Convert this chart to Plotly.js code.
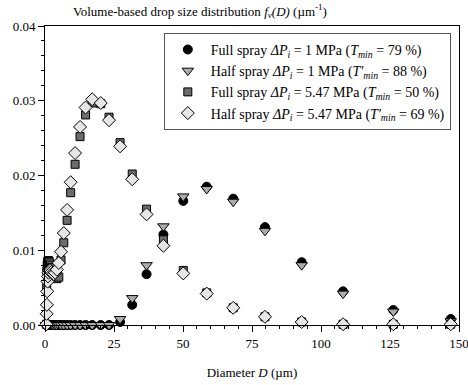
<!DOCTYPE html>
<html>
<head>
<meta charset="utf-8">
<script src="https://cdn.plot.ly/plotly-3.0.1.min.js"></script>
<style>html,body{margin:0;padding:0;background:#fff;}#chart{width:468px;height:385px;}</style>
</head>
<body>
<div id="chart"></div>
<script>
// Drop diameter classes (µm)
const diameter = [0.51, 0.59, 0.69, 0.80, 0.93, 1.08, 1.26, 1.47, 1.7, 2.0, 2.3, 2.7, 3.2, 3.7, 4.3, 5.0, 5.8, 6.8, 8.0, 9.3, 10.9, 12.7, 14.7, 17.1, 20.2, 23.2, 27.2, 31.6, 36.8, 42.9, 50.1, 58.6, 68.2, 79.7, 93, 108, 126.2, 147];

// Full spray ΔPi = 1 MPa
const fullSpray1 = [0, 0, 0, 0, 0, 0, 0, 0, 0, 0, 0, 0, 0, 0, 0, 0, 0, 0, 0, 0, 0, 0, 0, 0, 0, 0, 0.0004, 0.0027, 0.0068, 0.0121, 0.0166, 0.0185, 0.0169, 0.0131, 0.0084, 0.0045, 0.0020, 0.0008];
// Half spray ΔPi = 1 MPa
const halfSpray1 = [0, 0, 0, 0, 0, 0, 0, 0, 0, 0, 0, 0, 0, 0, 0, 0, 0, 0, 0, 0, 0, 0, 0, 0, 0, 0, 0.0008, 0.0036, 0.0080, 0.0132, 0.0172, 0.0182, 0.0165, 0.0126, 0.0080, 0.0042, 0.0018, 0.0005];
// Full spray ΔPi = 5.47 MPa
const fullSpray547 = [0.0001, 0.0050, 0.0072, 0.0080, 0.0084, 0.0086, 0.0086, 0.0085, 0.0083, 0.0080, 0.0077, 0.0073, 0.0069, 0.0065, 0.0062, 0.0064, 0.0087, 0.0110, 0.0140, 0.0177, 0.0215, 0.0252, 0.0281, 0.0297, 0.0296, 0.0278, 0.0244, 0.0202, 0.0155, 0.0114, 0.0073, 0.0043, 0.0023, 0.0011, 0.0004, 0.0001, 0.0001, 0.0001];
// Half spray ΔPi = 5.47 MPa
const halfSpray547 = [0.0001, 0.0015, 0.0027, 0.0045, 0.0058, 0.0065, 0.0070, 0.0073, 0.0074, 0.0073, 0.0071, 0.0069, 0.0068, 0.0070, 0.0074, 0.0083, 0.0098, 0.0123, 0.0154, 0.0191, 0.0230, 0.0265, 0.0291, 0.0302, 0.0297, 0.0274, 0.0239, 0.0195, 0.0148, 0.0106, 0.0069, 0.0042, 0.0023, 0.0011, 0.0004, 0.0001, 0.0001, 0.0001];

const xTickVals = [0, 25, 50, 75, 100, 125, 150];
const yTickVals = [0, 0.01, 0.02, 0.03, 0.04];

const seriesNames = [
  "Full spray <i>ΔP<sub>i</sub></i> = 1 MPa (<i>T<sub>min</sub></i> = 79 %)",
  "Half spray <i>ΔP<sub>i</sub></i> = 1 MPa (<i>T'<sub>min</sub></i> = 88 %)",
  "Full spray <i>ΔP<sub>i</sub></i> = 5.47 MPa (<i>T<sub>min</sub></i> = 50 %)",
  "Half spray <i>ΔP<sub>i</sub></i> = 5.47 MPa (<i>T'<sub>min</sub></i> = 69 %)"
];

const FONT = "Liberation Serif, Times New Roman, serif";

const traces = [
  {x: diameter, y: fullSpray1, name: seriesNames[0], legendgroup: "g1", type: "scatter", mode: "markers", cliponaxis: false,
   marker: {symbol: "circle", size: 9, color: "#000000", line: {color: "#000000", width: 1}}},
  {x: diameter, y: halfSpray1, name: seriesNames[1], legendgroup: "g2", type: "scatter", mode: "markers", cliponaxis: false,
   marker: {symbol: "triangle-down", size: 10, color: "#ababab", line: {color: "#000000", width: 1}}},
  {x: diameter, y: fullSpray547, name: seriesNames[2], legendgroup: "g3", type: "scatter", mode: "markers", cliponaxis: false,
   marker: {symbol: "square", size: 8, color: "#6b6b6b", line: {color: "#000000", width: 1}}},
  {x: diameter, y: halfSpray547, name: seriesNames[3], legendgroup: "g4", type: "scatter", mode: "markers", cliponaxis: false,
   marker: {symbol: "diamond", size: 10, color: "#e6e6e6", line: {color: "#000000", width: 1}}}
];

const layout = {
  width: 468, height: 385,
  margin: {l: 45, r: 9, t: 26, b: 60},
  paper_bgcolor: "#ffffff", plot_bgcolor: "#ffffff",
  font: {family: FONT, size: 13, color: "#000000"},
  title: {
    text: "Volume-based drop size distribution <i>f<sub>v</sub>(D)</i> (µm<sup>-1</sup>)",
    xref: "container", yref: "container", x: 73 / 468, y: 1 - 11 / 385,
    xanchor: "left", yanchor: "middle",
    font: {family: FONT, size: 13, color: "#000"}
  },
  showlegend: true,
  legend: {
    x: 0.287, y: 0.977, xanchor: "left", yanchor: "top",
    bgcolor: "#ffffff", bordercolor: "#555555", borderwidth: 1,
    font: {family: FONT, size: 14, color: "#000000"},
    itemwidth: 36, tracegroupgap: 0
  },
  xaxis: {
    range: [0, 150], tickvals: xTickVals,
    ticks: "outside", ticklen: 6, tickwidth: 1, tickcolor: "#000",
    ticklabeloverflow: "allow",
    minor: {dtick: 5, ticks: "outside", ticklen: 3, tickcolor: "#000", showgrid: false},
    showline: true, linecolor: "#000", linewidth: 1, mirror: true,
    showgrid: false, zeroline: false,
    tickfont: {family: FONT, size: 13, color: "#000"},
    title: {text: "Diameter <i>D</i> (µm)", font: {family: FONT, size: 13, color: "#000"}, standoff: 18}
  },
  yaxis: {
    range: [0, 0.04], tickvals: yTickVals, tickformat: ".2f",
    ticks: "outside", ticklen: 6, tickwidth: 1, tickcolor: "#000",
    minor: {dtick: 0.002, ticks: "outside", ticklen: 3, tickcolor: "#000", showgrid: false},
    showline: true, linecolor: "#000", linewidth: 1, mirror: true,
    showgrid: false, zeroline: false,
    tickfont: {family: FONT, size: 13, color: "#000"}
  }
};

Plotly.newPlot("chart", traces, layout, {displayModeBar: false, staticPlot: true});
</script>
</body>
</html>
